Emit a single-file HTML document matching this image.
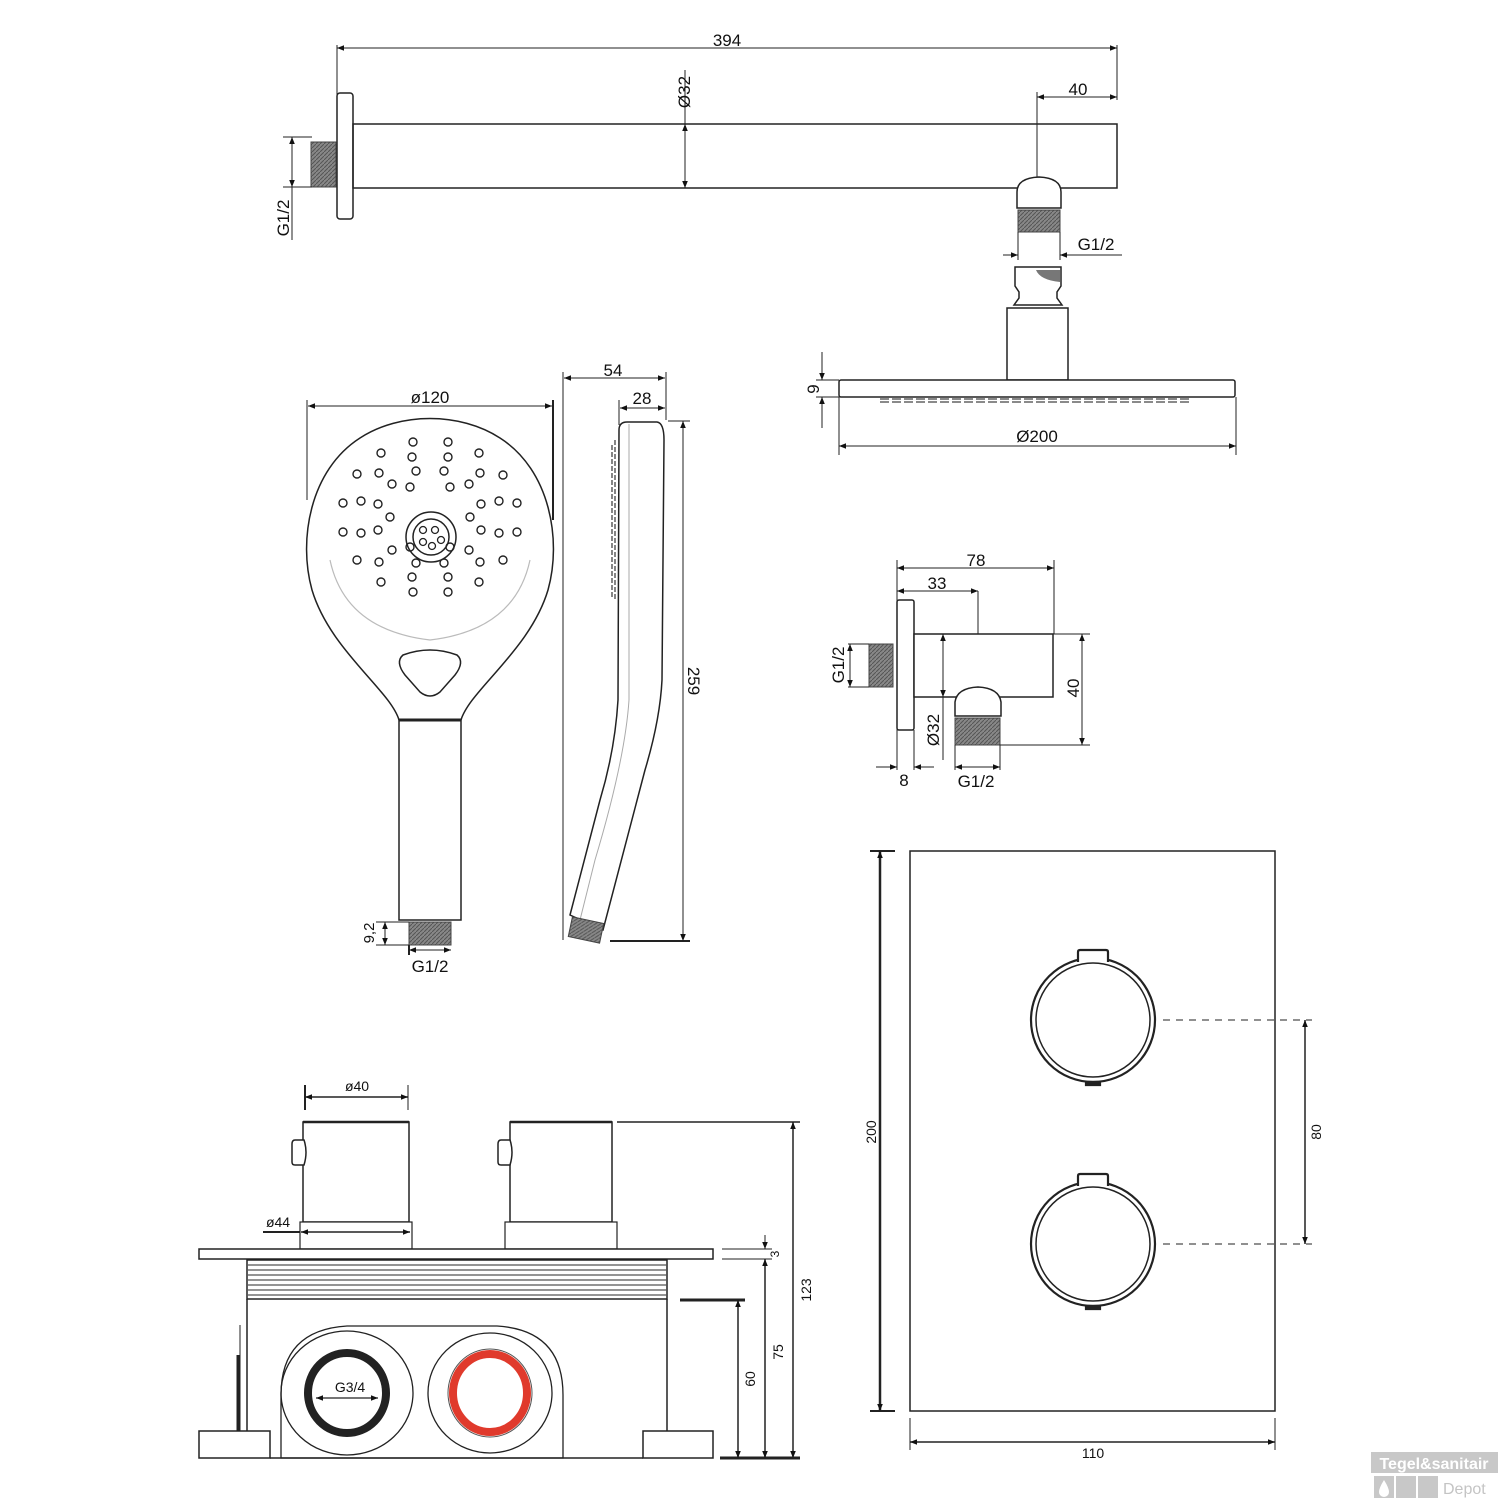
<!DOCTYPE html>
<html><head><meta charset="utf-8"><style>
html,body{margin:0;padding:0;background:#fff}
svg{display:block}
text{font-family:"Liberation Sans",sans-serif;fill:#111}
</style></head><body>
<svg width="1500" height="1500" viewBox="0 0 1500 1500" xmlns="http://www.w3.org/2000/svg">
<defs>
<marker id="a" viewBox="0 0 10 10" refX="10" refY="5" markerWidth="9" markerHeight="7" orient="auto-start-reverse" markerUnits="userSpaceOnUse"><path d="M0,1 L10,5 L0,9 Z" fill="#111"/></marker>
<pattern id="th" width="4" height="4" patternUnits="userSpaceOnUse"><rect width="4" height="4" fill="#888"/><path d="M0,4 L4,0" stroke="#555" stroke-width="1"/></pattern>
</defs>
<g fill="none" stroke="#222" stroke-width="1.5">
<!-- TOP ARM -->
<line x1="337" y1="45" x2="337" y2="95" stroke-width="1"/>
<line x1="1117" y1="45" x2="1117" y2="100" stroke-width="1"/>
<line x1="337" y1="48" x2="1117" y2="48" stroke-width="1" marker-start="url(#a)" marker-end="url(#a)"/>
<rect x="337" y="93" width="16" height="126" rx="3" fill="#fff"/>
<rect x="311" y="142" width="25" height="45" fill="url(#th)" stroke="#444" stroke-width="1"/>
<line x1="283" y1="137" x2="312" y2="137" stroke-width="1"/>
<line x1="283" y1="187" x2="312" y2="187" stroke-width="1"/>
<line x1="292" y1="137" x2="292" y2="187" stroke-width="1" marker-start="url(#a)" marker-end="url(#a)"/>
<line x1="292" y1="187" x2="292" y2="240" stroke-width="1"/>
<rect x="353" y="124" width="764" height="64"/>
<line x1="685" y1="70" x2="685" y2="188" stroke-width="1"/>
<line x1="685" y1="150" x2="685" y2="124" stroke-width="1" marker-end="url(#a)"/>
<line x1="685" y1="160" x2="685" y2="188" stroke-width="1" marker-end="url(#a)"/>
<line x1="1037" y1="92" x2="1037" y2="178" stroke-width="1"/>
<line x1="1037" y1="97" x2="1117" y2="97" stroke-width="1" marker-start="url(#a)" marker-end="url(#a)"/>
<path d="M1017,208 L1017,192 Q1017,178 1039,177 Q1061,178 1061,192 L1061,208 Z" fill="#fff"/>
<rect x="1018" y="210" width="42" height="22" fill="url(#th)" stroke="#444" stroke-width="1"/>
<line x1="1018" y1="232" x2="1018" y2="260" stroke-width="1"/>
<line x1="1060" y1="232" x2="1060" y2="260" stroke-width="1"/>
<line x1="1003" y1="255" x2="1018" y2="255" stroke-width="1" marker-end="url(#a)"/>
<line x1="1122" y1="255" x2="1060" y2="255" stroke-width="1" marker-end="url(#a)"/>
<path d="M1015,267 L1061,267 L1061,286 L1057,292 L1057,298 L1062,305 L1014,305 L1019,298 L1019,292 L1015,286 Z" fill="#fff"/>
<path d="M1036,270 Q1040,280 1060,282 L1060,270 Z" fill="#777" stroke="none"/>
<rect x="1007" y="308" width="61" height="72" fill="#fff"/>
<rect x="839" y="380" width="396" height="17" rx="2" fill="#fff"/>
<g stroke="#444" stroke-width="1.2">
<path d="M880,399 h312" stroke-dasharray="9 3"/>
<path d="M880,402 h312" stroke-dasharray="9 3"/>
</g>
<line x1="816" y1="380" x2="839" y2="380" stroke-width="1"/>
<line x1="816" y1="397" x2="839" y2="397" stroke-width="1"/>
<line x1="822" y1="352" x2="822" y2="380" stroke-width="1" marker-end="url(#a)"/>
<line x1="822" y1="428" x2="822" y2="397" stroke-width="1" marker-end="url(#a)"/>
<line x1="839" y1="397" x2="839" y2="455" stroke-width="1"/>
<line x1="1236" y1="397" x2="1236" y2="455" stroke-width="1"/>
<line x1="839" y1="446" x2="1236" y2="446" stroke-width="1" marker-start="url(#a)" marker-end="url(#a)"/>

<!-- HAND SHOWER FRONT -->
<line x1="307" y1="400" x2="307" y2="500" stroke-width="1"/>
<line x1="553" y1="400" x2="553" y2="520" stroke-width="2"/>
<line x1="308" y1="406" x2="552" y2="406" stroke-width="1" marker-start="url(#a)" marker-end="url(#a)"/>
<path d="M399,720 C390,690 330,650 312,590 C298,540 310,470 360,438 C400,412 460,412 500,438 C550,470 562,540 548,590 C530,650 470,690 461,720" fill="#fff"/>
<path d="M330,560 Q345,630 430,640 Q515,630 530,560" stroke="#bbb" stroke-width="1.2"/>
<path d="M403,655 Q430,645 457,655 Q465,662 455,675 L440,692 Q430,700 420,692 L405,675 Q395,662 403,655 Z" fill="#fff"/>
<rect x="399" y="720" width="62" height="200" fill="#fff"/>
<line x1="399" y1="720" x2="461" y2="720" stroke-width="3"/>
<rect x="409" y="922" width="42" height="23" fill="url(#th)" stroke="#444" stroke-width="1"/>
<circle cx="431" cy="537" r="25"/>
<circle cx="431" cy="537" r="18"/>
<g stroke-width="1.3">
<circle cx="423" cy="530" r="3.5"/><circle cx="435" cy="530" r="3.5"/><circle cx="441" cy="540" r="3.5"/><circle cx="423" cy="542" r="3.5"/><circle cx="432" cy="546" r="3.5"/>
</g>
<g stroke-width="1.4">
<circle cx="413" cy="442" r="4"/><circle cx="448" cy="442" r="4"/><circle cx="381" cy="453" r="4"/><circle cx="412" cy="457" r="4"/><circle cx="448" cy="457" r="4"/><circle cx="479" cy="453" r="4"/>
<circle cx="357" cy="474" r="4"/><circle cx="379" cy="473" r="4"/><circle cx="416" cy="471" r="4"/><circle cx="444" cy="471" r="4"/><circle cx="480" cy="473" r="4"/><circle cx="503" cy="475" r="4"/>
<circle cx="392" cy="484" r="4"/><circle cx="410" cy="487" r="4"/><circle cx="450" cy="487" r="4"/><circle cx="469" cy="484" r="4"/>
<circle cx="343" cy="503" r="4"/><circle cx="361" cy="501" r="4"/><circle cx="378" cy="504" r="4"/><circle cx="481" cy="504" r="4"/><circle cx="499" cy="501" r="4"/><circle cx="517" cy="503" r="4"/>
<circle cx="390" cy="517" r="4"/><circle cx="470" cy="517" r="4"/>
<circle cx="343" cy="532" r="4"/><circle cx="361" cy="533" r="4"/><circle cx="378" cy="530" r="4"/><circle cx="481" cy="530" r="4"/><circle cx="499" cy="533" r="4"/><circle cx="517" cy="532" r="4"/>
<circle cx="392" cy="550" r="4"/><circle cx="410" cy="547" r="4"/><circle cx="450" cy="547" r="4"/><circle cx="469" cy="550" r="4"/>
<circle cx="357" cy="560" r="4"/><circle cx="379" cy="562" r="4"/><circle cx="416" cy="563" r="4"/><circle cx="444" cy="563" r="4"/><circle cx="480" cy="562" r="4"/><circle cx="503" cy="560" r="4"/>
<circle cx="381" cy="582" r="4"/><circle cx="412" cy="577" r="4"/><circle cx="448" cy="577" r="4"/><circle cx="479" cy="582" r="4"/><circle cx="413" cy="592" r="4"/><circle cx="448" cy="592" r="4"/>
</g>
<line x1="376" y1="922" x2="409" y2="922" stroke-width="1"/>
<line x1="376" y1="945" x2="409" y2="945" stroke-width="1"/>
<line x1="385" y1="922" x2="385" y2="945" stroke-width="1" marker-start="url(#a)" marker-end="url(#a)"/>
<line x1="409" y1="945" x2="409" y2="955" stroke-width="2"/>
<line x1="409" y1="950" x2="451" y2="950" stroke-width="1" marker-start="url(#a)" marker-end="url(#a)"/>

<!-- HAND SHOWER SIDE -->
<line x1="563" y1="372" x2="563" y2="940" stroke-width="1"/>
<line x1="666" y1="372" x2="666" y2="420" stroke-width="1"/>
<line x1="564" y1="378" x2="665" y2="378" stroke-width="1" marker-start="url(#a)" marker-end="url(#a)"/>
<line x1="619" y1="400" x2="619" y2="425" stroke-width="1"/>
<line x1="620" y1="408" x2="665" y2="408" stroke-width="1" marker-start="url(#a)" marker-end="url(#a)"/>
<path d="M619,430 Q619,422 627,422 L657,422 Q664,423 664,440 L662,680 Q660,720 645,770 L603,930 L570,915 L600,800 Q615,750 618,700 Z" fill="#fff"/>
<path d="M629,424 L629,700 Q625,760 595,860 L580,920" stroke="#aaa" stroke-width="1"/>
<path d="M615,440 L615,600 M612,445 L612,598" stroke="#444" stroke-width="1.3" stroke-dasharray="5 2"/>
<rect x="570" y="920" width="32" height="20" fill="url(#th)" stroke="#444" stroke-width="1" transform="rotate(12 586 930)"/>
<line x1="668" y1="421" x2="690" y2="421" stroke-width="1"/>
<line x1="610" y1="941" x2="690" y2="941" stroke-width="2"/>
<line x1="683" y1="421" x2="683" y2="941" stroke-width="1" marker-start="url(#a)" marker-end="url(#a)"/>

<!-- WALL ELBOW -->
<line x1="897" y1="560" x2="897" y2="770" stroke-width="1"/>
<line x1="1054" y1="560" x2="1054" y2="634" stroke-width="1"/>
<line x1="897" y1="568" x2="1054" y2="568" stroke-width="1" marker-start="url(#a)" marker-end="url(#a)"/>
<line x1="897" y1="591" x2="978" y2="591" stroke-width="1" marker-start="url(#a)" marker-end="url(#a)"/>
<line x1="978" y1="591" x2="978" y2="688" stroke-width="1"/>
<rect x="897" y="600" width="17" height="130" rx="2" fill="#fff"/>
<rect x="869" y="644" width="24" height="43" fill="url(#th)" stroke="#444" stroke-width="1"/>
<line x1="848" y1="644" x2="869" y2="644" stroke-width="1"/>
<line x1="848" y1="687" x2="869" y2="687" stroke-width="1"/>
<line x1="850" y1="644" x2="850" y2="687" stroke-width="1" marker-start="url(#a)" marker-end="url(#a)"/>
<rect x="914" y="634" width="139" height="63" fill="#fff"/>
<path d="M955,716 L955,702 Q957,688 978,687 Q999,688 1001,702 L1001,716 Z" fill="#fff"/>
<rect x="955" y="718" width="45" height="27" fill="url(#th)" stroke="#444" stroke-width="1"/>
<line x1="1053" y1="634" x2="1090" y2="634" stroke-width="1"/>
<line x1="1000" y1="745" x2="1090" y2="745" stroke-width="1"/>
<line x1="1082" y1="634" x2="1082" y2="745" stroke-width="1" marker-start="url(#a)" marker-end="url(#a)"/>
<line x1="943" y1="634" x2="943" y2="760" stroke-width="1"/>
<line x1="943" y1="660" x2="943" y2="634" stroke-width="1" marker-end="url(#a)"/>
<line x1="943" y1="670" x2="943" y2="697" stroke-width="1" marker-end="url(#a)"/>
<line x1="914" y1="730" x2="914" y2="770" stroke-width="1"/>
<line x1="876" y1="767" x2="897" y2="767" stroke-width="1" marker-end="url(#a)"/>
<line x1="934" y1="767" x2="914" y2="767" stroke-width="1" marker-end="url(#a)"/>
<line x1="955" y1="745" x2="955" y2="770" stroke-width="1"/>
<line x1="1000" y1="745" x2="1000" y2="770" stroke-width="1"/>
<line x1="955" y1="767" x2="1000" y2="767" stroke-width="1" marker-start="url(#a)" marker-end="url(#a)"/>

<!-- THERMOSTAT FRONT -->
<rect x="910" y="851" width="365" height="560"/>
<line x1="870" y1="851" x2="895" y2="851" stroke-width="2"/>
<line x1="870" y1="1411" x2="895" y2="1411" stroke-width="2"/>
<line x1="880" y1="851" x2="880" y2="1411" stroke-width="2.5" marker-start="url(#a)" marker-end="url(#a)"/>
<line x1="910" y1="1418" x2="910" y2="1450" stroke-width="1"/>
<line x1="1275" y1="1418" x2="1275" y2="1450" stroke-width="1"/>
<line x1="910" y1="1442" x2="1275" y2="1442" stroke-width="1.5" marker-start="url(#a)" marker-end="url(#a)"/>
<g stroke-width="2.2">
<circle cx="1093" cy="1020" r="62"/><circle cx="1093" cy="1020" r="57" stroke-width="1.5"/>
<path d="M1078,962 L1078,952 Q1078,950 1080,950 L1106,950 Q1108,950 1108,952 L1108,962" fill="#fff"/>
<path d="M1086,1082 h14 v3 h-14 z" fill="#222"/>
<circle cx="1093" cy="1244" r="62"/><circle cx="1093" cy="1244" r="57" stroke-width="1.5"/>
<path d="M1078,1186 L1078,1176 Q1078,1174 1080,1174 L1106,1174 Q1108,1174 1108,1176 L1108,1186" fill="#fff"/>
<path d="M1086,1306 h14 v3 h-14 z" fill="#222"/>
</g>
<line x1="1163" y1="1020" x2="1312" y2="1020" stroke-width="1" stroke-dasharray="7 6"/>
<line x1="1163" y1="1244" x2="1312" y2="1244" stroke-width="1" stroke-dasharray="7 6"/>
<line x1="1305" y1="1020" x2="1305" y2="1244" stroke-width="1.5" marker-start="url(#a)" marker-end="url(#a)"/>

<!-- MIXER SIDE -->
<line x1="305" y1="1085" x2="305" y2="1110" stroke-width="2"/>
<line x1="408" y1="1085" x2="408" y2="1110" stroke-width="1"/>
<line x1="305" y1="1097" x2="408" y2="1097" stroke-width="1.5" marker-start="url(#a)" marker-end="url(#a)"/>
<rect x="303" y="1122" width="106" height="100" fill="#fff"/>
<line x1="303" y1="1122" x2="409" y2="1122" stroke-width="2.5"/>
<path d="M304,1140 L295,1140 Q292,1140 292,1144 L292,1162 Q292,1165 295,1165 L304,1165 Q308,1152 304,1140 Z" fill="#fff"/>
<rect x="300" y="1222" width="112" height="27" fill="#fff" stroke-width="1.2"/>
<rect x="510" y="1122" width="102" height="100" fill="#fff"/>
<line x1="510" y1="1122" x2="612" y2="1122" stroke-width="2.5"/>
<path d="M510,1140 L501,1140 Q498,1140 498,1144 L498,1162 Q498,1165 501,1165 L510,1165 Q514,1152 510,1140 Z" fill="#fff"/>
<rect x="505" y="1222" width="112" height="27" fill="#fff" stroke-width="1.2"/>
<line x1="263" y1="1232" x2="300" y2="1232" stroke-width="2"/>
<line x1="301" y1="1232" x2="410" y2="1232" stroke-width="1.5" marker-start="url(#a)" marker-end="url(#a)"/>
<rect x="199" y="1249" width="514" height="10" fill="#fff"/>
<rect x="247" y="1260" width="420" height="39" fill="#fff"/>
<g stroke="#555" stroke-width="1.2">
<line x1="247" y1="1265" x2="667" y2="1265"/><line x1="247" y1="1270" x2="667" y2="1270"/><line x1="247" y1="1275" x2="667" y2="1275"/><line x1="247" y1="1280" x2="667" y2="1280"/><line x1="247" y1="1285" x2="667" y2="1285"/><line x1="247" y1="1290" x2="667" y2="1290"/><line x1="247" y1="1295" x2="667" y2="1295"/>
</g>
<path d="M247,1299 L247,1431 M667,1299 L667,1431"/>
<path d="M240,1325 L240,1431" stroke-width="1"/>
<path d="M238,1355 L238,1431" stroke-width="3"/>
<rect x="199" y="1431" width="71" height="27" fill="#fff"/>
<rect x="643" y="1431" width="70" height="27" fill="#fff"/>
<path d="M281,1458 L281,1395 Q281,1330 347,1326 L497,1326 Q563,1330 563,1395 L563,1458 Z" fill="#fff" stroke-width="1.3"/>
<line x1="270" y1="1458" x2="643" y2="1458"/>
<ellipse cx="347" cy="1393" rx="66" ry="62" stroke-width="1.3"/>
<ellipse cx="347" cy="1393" rx="39" ry="40" stroke="#222" stroke-width="8"/>
<line x1="316" y1="1398" x2="378" y2="1398" stroke-width="1.2" marker-start="url(#a)" marker-end="url(#a)"/>
<ellipse cx="490" cy="1393" rx="62" ry="60" stroke-width="1.3"/>
<ellipse cx="490" cy="1393" rx="37" ry="39" stroke="#e03a2c" stroke-width="8"/>
<ellipse cx="490" cy="1393" rx="42" ry="44" stroke="#555" stroke-width="1"/>
<line x1="617" y1="1122" x2="800" y2="1122" stroke-width="1.5"/>
<line x1="793" y1="1122" x2="793" y2="1458" stroke-width="1.5" marker-start="url(#a)" marker-end="url(#a)"/>
<line x1="720" y1="1458" x2="800" y2="1458" stroke-width="3"/>
<line x1="722" y1="1249" x2="772" y2="1249" stroke-width="1"/>
<line x1="722" y1="1259" x2="772" y2="1259" stroke-width="1"/>
<line x1="765" y1="1235" x2="765" y2="1249" stroke-width="1" marker-end="url(#a)"/>
<line x1="765" y1="1259" x2="765" y2="1458" stroke-width="1.5" marker-start="url(#a)" marker-end="url(#a)"/>
<line x1="680" y1="1300" x2="745" y2="1300" stroke-width="3"/>
<line x1="738" y1="1300" x2="738" y2="1458" stroke-width="1.5" marker-start="url(#a)" marker-end="url(#a)"/>
</g>

<!-- TEXT -->
<g font-size="17">
<text x="727" y="46" text-anchor="middle">394</text>
<text x="1078" y="95" text-anchor="middle">40</text>
<text transform="translate(690,92) rotate(-90)" text-anchor="middle">Ø32</text>
<text transform="translate(289,218) rotate(-90)" text-anchor="middle">G1/2</text>
<text x="1096" y="250" text-anchor="middle">G1/2</text>
<text transform="translate(819,389) rotate(-90)" text-anchor="middle">9</text>
<text x="1037" y="442" text-anchor="middle">Ø200</text>
<text x="430" y="403" text-anchor="middle">ø120</text>
<text x="613" y="376" text-anchor="middle">54</text>
<text x="642" y="404" text-anchor="middle">28</text>
<text transform="translate(688,681) rotate(90)" text-anchor="middle">259</text>
<text transform="translate(374,933) rotate(-90)" text-anchor="middle" font-size="15">9,2</text>
<text x="430" y="972" text-anchor="middle">G1/2</text>
<text x="976" y="566" text-anchor="middle">78</text>
<text x="937" y="589" text-anchor="middle">33</text>
<text transform="translate(844,665) rotate(-90)" text-anchor="middle">G1/2</text>
<text transform="translate(1079,688) rotate(-90)" text-anchor="middle">40</text>
<text transform="translate(939,730) rotate(-90)" text-anchor="middle">Ø32</text>
<text x="904" y="786" text-anchor="middle">8</text>
<text x="976" y="787" text-anchor="middle">G1/2</text>
</g>
<g font-size="14">
<text x="357" y="1091" text-anchor="middle">ø40</text>
<text x="278" y="1227" text-anchor="middle">ø44</text>
<text x="350" y="1392" text-anchor="middle">G3/4</text>
<text transform="translate(811,1290) rotate(-90)" text-anchor="middle">123</text>
<text transform="translate(783,1352) rotate(-90)" text-anchor="middle">75</text>
<text transform="translate(755,1379) rotate(-90)" text-anchor="middle">60</text>
<text transform="translate(779,1254) rotate(-90)" text-anchor="middle" font-size="12">3</text>
<text transform="translate(876,1132) rotate(-90)" text-anchor="middle">200</text>
<text transform="translate(1321,1132) rotate(-90)" text-anchor="middle">80</text>
<text x="1093" y="1458" text-anchor="middle">110</text>
</g>
<!-- LOGO -->
<rect x="1371" y="1452" width="127" height="21" fill="#c8c8c8"/>
<text x="1434" y="1469" text-anchor="middle" font-size="16" font-weight="bold" style="fill:#fff">Tegel&amp;sanitair</text>
<rect x="1374" y="1476" width="20" height="22" fill="#c8c8c8"/>
<rect x="1396" y="1476" width="20" height="22" fill="#c8c8c8"/>
<rect x="1418" y="1476" width="20" height="22" fill="#c8c8c8"/>
<path d="M1384,1480 Q1379,1488 1379,1492 A5,5 0 0 0 1389,1492 Q1389,1488 1384,1480 Z" fill="#fff"/>
<text x="1443" y="1494" font-size="16" style="fill:#c4c4c4">Depot</text>
</svg>
</body></html>
